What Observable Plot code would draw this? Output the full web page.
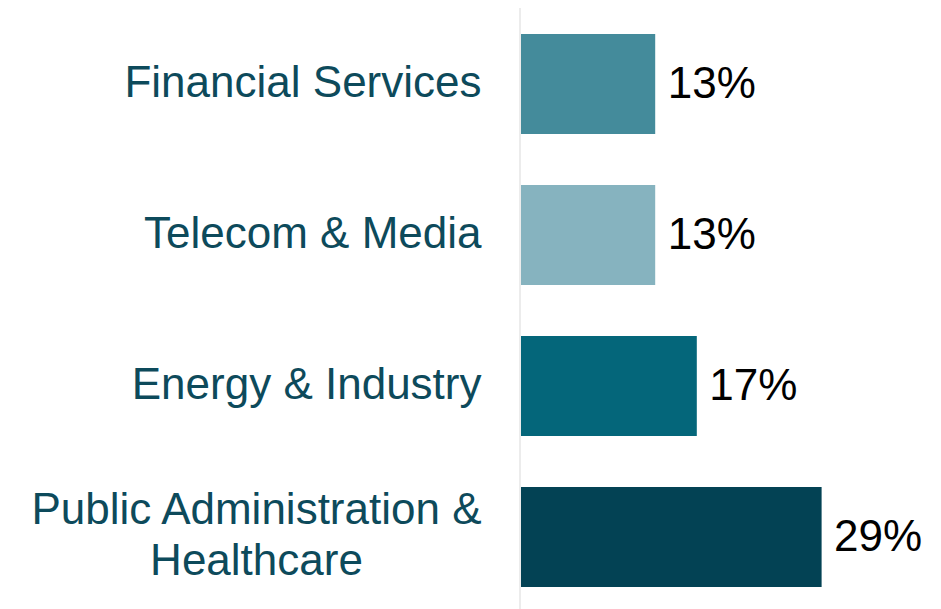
<!DOCTYPE html>
<html>
<head>
<meta charset="utf-8">
<script src="https://cdn.jsdelivr.net/npm/d3@7"></script>
<script src="https://cdn.jsdelivr.net/npm/@observablehq/plot@0.6"></script>
<style>
  html, body { margin: 0; padding: 0; background: #ffffff; }
  #chart { width: 941px; height: 609px; }
</style>
</head>
<body>
<div id="chart"></div>
<script>
// Share of respondents by industry sector (%)
const sectors = [
  "Financial Services",
  "Telecom & Media",
  "Energy & Industry",
  "Public Administration & Healthcare"
];
const shares = [13, 13, 17, 29];
const barColors = ["#448B9B", "#86B3BF", "#04667A", "#034254"];
const sectorLabels = [
  "Financial Services",
  "Telecom & Media",
  "Energy & Industry",
  "Public Administration &\nHealthcare"
];

const rows = sectors.map((s, i) => ({sector: s, share: shares[i], color: barColors[i]}));
const labelOf = new Map(sectors.map((s, i) => [s, sectorLabels[i]]));

const chart = Plot.plot({
  width: 941,
  height: 609,
  marginLeft: 520,
  marginRight: 5,
  marginTop: 8,
  marginBottom: 0,
  style: {
    fontFamily: "'Liberation Sans', Arial, sans-serif",
    color: "#0D4A5B",
    background: "#ffffff"
  },
  x: {domain: [0, 40], axis: null},
  y: {
    domain: sectors,
    range: [7.5, 613.5],
    paddingInner: 0.337,
    paddingOuter: 0.17,
    label: null
  },
  marks: [
    Plot.barX(rows, {x: "share", y: "sector", fill: "color", insetLeft: 1}),
    Plot.ruleX([0], {stroke: "#d9d9d9", strokeWidth: 1, dx: -0.5}),
    Plot.text(rows, {
      x: "share",
      y: "sector",
      text: d => `${d.share}%`,
      textAnchor: "start",
      dx: 12,
      dy: -1,
      fontSize: 44,
      fill: "#000000"
    }),
    Plot.axisY({
      tickSize: 0,
      tickPadding: 39,
      fontSize: 44,
      lineHeight: 1.16,
      dy: -4,
      tickFormat: d => labelOf.get(d),
      label: null
    })
  ]
});

document.getElementById("chart").append(chart);

// Multi-line category labels are centred within their block, which stays right-aligned.
chart.querySelectorAll("text").forEach(t => {
  const spans = t.querySelectorAll("tspan");
  if (spans.length > 1) {
    const w = t.getBBox().width;
    t.setAttribute("text-anchor", "middle");
    spans.forEach(s => s.setAttribute("x", -w / 2));
  }
});
</script>
</body>
</html>
